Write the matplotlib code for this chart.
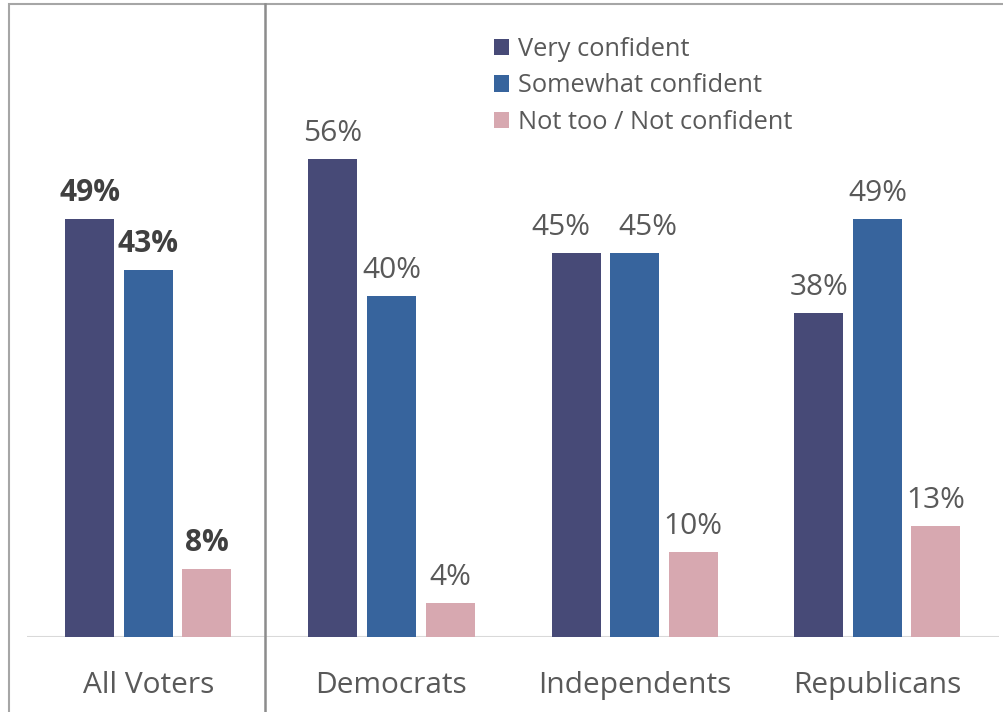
import matplotlib
matplotlib.use("Agg")
import matplotlib.pyplot as plt
from matplotlib.lines import Line2D
from matplotlib.patches import Rectangle
import numpy as np

categories = ["All Voters", "Democrats", "Independents", "Republicans"]
series_names = ["Very confident", "Somewhat confident", "Not too / Not confident"]
very = [49, 56, 45, 38]
somewhat = [43, 40, 45, 49]
not_conf = [8, 4, 10, 13]
colors = ["#474A77", "#37649D", "#D7A8B0"]

# horizontal nudges (px) of a few data labels, as placed in the original
label_nudge = {(0, 2): -15, (1, 2): 13}

plt.rcParams["font.family"] = ["Open Sans", "DejaVu Sans"]

fig = plt.figure(figsize=(10.04, 7.12), dpi=100)
W, H = 1004, 712
# axes: left 27px, right 999px, baseline at 637px from top, top at 4px
ax = fig.add_axes([27 / W, (H - 637) / H, (999 - 27) / W, (637 - 4) / H])
ax.set_xlim(-0.5, 3.5)
ax.set_ylim(0, 633 / 8.53)

x = np.arange(len(categories))
bw = 49 / 243
off = 58.5 / 243
all_series = [very, somewhat, not_conf]
for i, (vals, c, name) in enumerate(zip(all_series, colors, series_names)):
    b = ax.bar(x + (i - 1) * off, vals, width=bw, color=c, label=name, zorder=3)
    for j, (rect, v) in enumerate(zip(b, vals)):
        bold = j == 0
        dx = label_nudge.get((i, j), 0) * 0.72
        ax.annotate(f"{v}%", (rect.get_x() + rect.get_width() / 2, v),
                    xytext=(dx, 8), textcoords="offset points",
                    ha="center", va="bottom", fontsize=21.5,
                    fontweight="bold" if bold else "normal",
                    color="#404040" if bold else "#595959")

for s in ax.spines.values():
    s.set_visible(False)
ax.axhline(0, color="#D9D9D9", lw=1.5, zorder=2)
ax.set_yticks([])
ax.set_xticks(x)
ax.set_xticklabels(categories, fontsize=21.5, color="#595959")
ax.tick_params(axis="x", length=0, pad=24.5)

leg = ax.legend(loc="upper left", bbox_to_anchor=((494 - 27) / (999 - 27), 1 - (37 - 4) / 633),
                frameon=False, fontsize=18.3, handlelength=0.6, handleheight=0.6,
                handletextpad=0.35, labelspacing=0.45, borderpad=0, borderaxespad=0)
for t in leg.get_texts():
    t.set_color("#595959")

# outer border and separator
fig.add_artist(Rectangle((9 / W, -0.01), 1.0, 1 - 4 / H + 0.01, transform=fig.transFigure,
                         fill=False, edgecolor="#A6A6A6", lw=1.5))
fig.add_artist(Line2D([265 / W, 265 / W], [0, 1 - 4 / H], transform=fig.transFigure,
                      color="#8C8C8C", lw=1.8))

fig.savefig("out.png", dpi=100)
